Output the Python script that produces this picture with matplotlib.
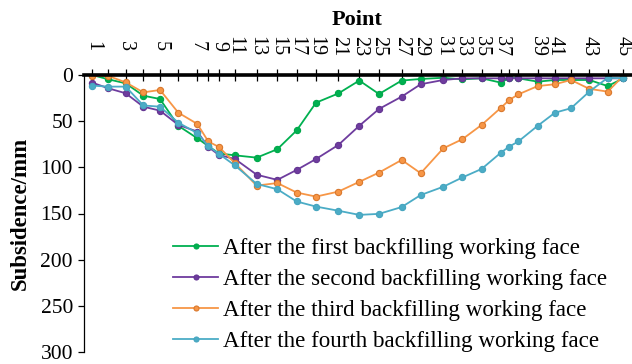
import matplotlib
matplotlib.use("Agg")
import matplotlib.pyplot as plt

plt.rcParams['font.family'] = ['Liberation Serif', 'DejaVu Serif']

# measuring point positions along the line (relative distance) and their labels
positions = [0, 16, 33.4, 51, 67.7, 86, 105, 116, 126.7, 142.7, 164.4, 185, 204.4,
             223.7, 246, 267, 286.7, 309.4, 328.4, 351, 370, 389.4, 408.7, 417,
             426, 445.4, 462.7, 478.7, 497, 515.4, 531]
point_labels = ['1', '', '3', '', '5', '', '7', '', '9', '11', '13', '15', '17', '19',
                '21', '23', '25', '27', '29', '31', '33', '35', '37', '', '', '39',
                '41', '', '43', '', '45']

first = [0, 4.7, 9, 22.4, 26, 55, 68.5, 77, 85, 87, 89.5, 80.4, 60, 30, 20, 6,
         20.6, 6, 4.3, 3, 4.7, 3.6, 8.3, 3, 3.6, 7.2, 5.4, 5.4, 5.4, 12, 3.6]
second = [8.3, 14.4, 19.8, 34.3, 38.6, 54, 61.3, 78, 86.6, 91, 108, 113.6, 102.8,
          91, 75.8, 55, 36.8, 23.4, 10, 5.4, 3.6, 3.6, 3.6, 3.6, 3.6, 3.6, 3.6,
          3.6, 3.6, 3.6, 3.6]
third = [1, 1, 8, 18.8, 16.2, 40.8, 53, 72, 78, 95.6, 119.8, 117, 127.3, 131.7,
         126.3, 115.7, 105.7, 92, 106.4, 79.4, 69.6, 54, 35.4, 27, 21, 12, 10,
         5.4, 15, 18, 1]
fourth = [11.5, 12.6, 12.6, 33, 34.3, 51.6, 63, 77, 85.5, 98, 118, 123.7, 137,
          142.5, 147, 151.5, 150.4, 143, 130, 121, 111, 101.7, 84, 77.5, 72, 55,
          40.8, 36, 18, 3, 3.6]

series_names = ['After the first backfilling working face',
                'After the second backfilling working face',
                'After the third backfilling working face',
                'After the fourth backfilling working face']
colors = ['#00B050', '#6E3C9E', '#F79646', '#4BACC6']
edge_colors = ['#00A84A', '#633592', '#D9782D', '#46A5BF']

fig = plt.figure(figsize=(6.32, 3.64), dpi=100)
ax = fig.add_axes([84 / 632, 1 - 352 / 364, (631 - 84) / 632, (352 - 75) / 364])

for vals, name, c, ec in zip([first, second, third, fourth], series_names, colors, edge_colors):
    ax.plot(positions, vals, color=c, lw=1.3, marker='o', markersize=4.5,
            markerfacecolor=c, markeredgecolor=ec, markeredgewidth=0.8, label=name)

ax.set_xlim(-8.3, 538.7)
ax.set_ylim(300, 0)
ax.set_yticks(range(0, 301, 50))

ax.xaxis.set_ticks_position('top')
ax.xaxis.set_label_position('top')
ax.set_xticks(positions)
ax.set_xticklabels(point_labels, rotation=270, va='center', ha='center')
ax.tick_params(axis='x', direction='inout', length=8, width=0.9, pad=17,
               labelsize=14.5, colors='black')
ax.tick_params(axis='y', direction='out', length=4.5, width=0.9, labelsize=15.5)

for s in ['right', 'bottom']:
    ax.spines[s].set_visible(False)
ax.spines['top'].set_linewidth(2.6)
ax.spines['left'].set_linewidth(0.9)

ax.set_xlabel('Point', fontsize=16, fontweight='bold', labelpad=7.5)
ax.set_ylabel('Subsidence/mm', fontsize=16.4, fontweight='bold', labelpad=7)

leg = ax.legend(loc='upper left', bbox_to_anchor=(0.163, 0.412), frameon=False,
                fontsize=16.6, handlelength=1.95, handletextpad=0.22,
                labelspacing=0.43, borderaxespad=0, borderpad=0, markerscale=0.8)

fig.savefig('out.png', dpi=100)
